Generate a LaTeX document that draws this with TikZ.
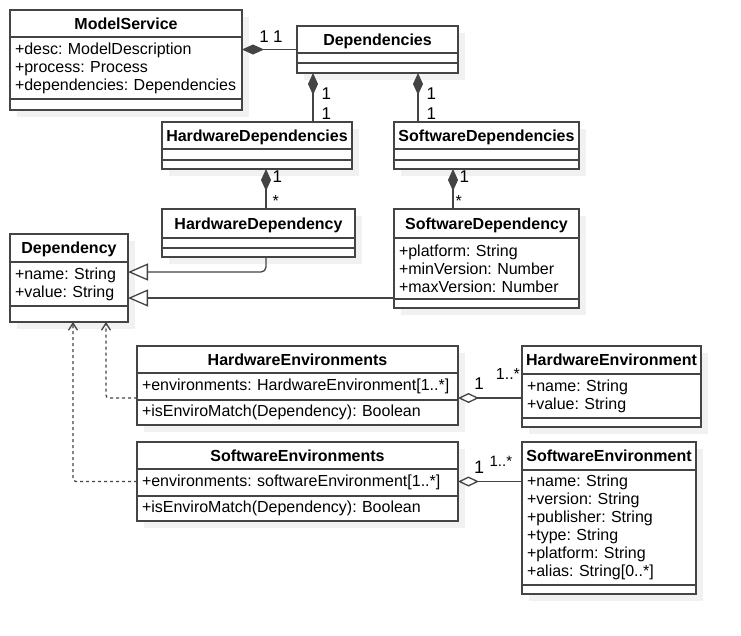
\documentclass[tikz,border=0pt]{standalone}
\usepackage{fontspec}
\setmainfont{Liberation Sans}
\usetikzlibrary{arrows.meta, positioning, shadows}

\definecolor{umlline}{HTML}{444444}
\definecolor{umlshadow}{HTML}{F1F1F1}
\frenchspacing
\hyphenpenalty=10000

\begin{document}
\begin{tikzpicture}[
    x=1pt, y=-1pt,               % Pixelmass, y nach unten
    font=\fontsize{16pt}{18pt}\selectfont,
    umlclass/.style={draw=umlline, line width=1.3pt, fill=white, anchor=north west, inner sep=0pt, outer sep=0pt,
      general shadow={fill=umlshadow, shadow xshift=7pt, shadow yshift=-7pt}},
    umlhead/.style={draw=umlline, line width=1.3pt, fill=white, anchor=north, inner sep=0pt, outer sep=0pt,
      font=\fontsize{16pt}{18pt}\selectfont\bfseries, text height=14.5pt, text depth=3.5pt},
    umlattr/.style={draw=umlline, line width=1.3pt, fill=white, inner xsep=5pt, inner ysep=0pt, outer sep=0pt, align=left},
    comp/.style={draw=umlline, line width=1.3pt, {Diamond[length=22pt,width=10pt]}-},
    aggr/.style={draw=umlline, line width=1.3pt, {Diamond[open,length=21pt,width=10pt]}-},
    gen/.style={draw=umlline, line width=1.3pt, -{Triangle[open,length=20pt,width=17pt]}, rounded corners=5pt},
    dep/.style={draw=umlline, line width=1.3pt, dash pattern=on 3pt off 3pt, -{Straight Barb[length=7pt,width=9pt]}, rounded corners=3pt},
    mult/.style={inner sep=1pt, font=\fontsize{17pt}{17pt}\selectfont},
    star/.style={inner sep=1pt, font=\fontsize{16pt}{16pt}\selectfont}
  ]

  \useasboundingbox (0,0) rectangle (741,635);

  % Klassen (obere linke Ecke in Pixeln)
  \node[umlclass, minimum width=232pt, minimum height=100pt] (ms) at (10,10) {};
  \node[umlhead, minimum width=232pt, minimum height=27pt] (msh) at (ms.north) {ModelService};
  \node[umlattr, text width=222pt, minimum height=62pt, below=0pt of msh] (msa)
    {+desc: ModelDescription\\+process: Process\\+dependencies: Dependencies};

  \node[umlclass, minimum width=161pt, minimum height=47pt] (deps) at (297,26) {};
  \node[umlhead, minimum width=161pt, minimum height=27pt] (depsh) at (deps.north) {Dependencies};
  \node[umlattr, minimum width=161pt, minimum height=10pt, below=0pt of depsh] (depsa) {};

  \node[umlclass, minimum width=190pt, minimum height=47pt] (hwdeps) at (162,122) {};
  \node[umlhead, minimum width=190pt, minimum height=27pt] (hwdepsh) at (hwdeps.north) {HardwareDependencies};
  \node[umlattr, minimum width=190pt, minimum height=11pt, below=0pt of hwdepsh] (hwdepsa) {};

  \node[umlclass, minimum width=185pt, minimum height=47pt] (swdeps) at (394,122) {};
  \node[umlhead, minimum width=185pt, minimum height=27pt] (swdepsh) at (swdeps.north) {SoftwareDependencies};
  \node[umlattr, minimum width=185pt, minimum height=11pt, below=0pt of swdepsh] (swdepsa) {};

  \node[umlclass, minimum width=193pt, minimum height=48pt] (hwdep) at (162,209) {};
  \node[umlhead, minimum width=193pt, minimum height=29pt] (hwdeph) at (hwdep.north) {HardwareDependency};
  \node[umlattr, minimum width=193pt, minimum height=10pt, below=0pt of hwdeph] (hwdepa) {};

  \node[umlclass, minimum width=185pt, minimum height=99pt] (swdep) at (394,209) {};
  \node[umlhead, minimum width=185pt, minimum height=29pt] (swdeph) at (swdep.north) {SoftwareDependency};
  \node[umlattr, text width=175pt, minimum height=61pt, below=0pt of swdeph] (swdepa)
    {+platform: String\\+minVersion: Number\\+maxVersion: Number};

  \node[umlclass, minimum width=118pt, minimum height=88pt] (dep) at (10,234) {};
  \node[umlhead, minimum width=118pt, minimum height=28pt] (deph) at (dep.north) {Dependency};
  \node[umlattr, text width=108pt, minimum height=44pt, below=0pt of deph] (depa)
    {+name: String\\+value: String};

  \node[umlclass, minimum width=321pt, minimum height=79pt] (hwenvs) at (137,346) {};
  \node[umlhead, minimum width=321pt, minimum height=27pt] (hwenvsh) at (hwenvs.north) {HardwareEnvironments};
  \node[umlattr, text width=311pt, minimum height=27pt, below=0pt of hwenvsh] (hwenvsa)
    {+environments: HardwareEnvironment[1..*]};
  \node[umlattr, text width=311pt, minimum height=25pt, below=0pt of hwenvsa] (hwenvsm)
    {+isEnviroMatch(Dependency): Boolean};

  \node[umlclass, minimum width=179pt, minimum height=81pt] (hwenv) at (522,346) {};
  \node[umlhead, minimum width=179pt, minimum height=28pt] (hwenvh) at (hwenv.north) {HardwareEnvironment};
  \node[umlattr, text width=169pt, minimum height=44pt, below=0pt of hwenvh] (hwenva)
    {+name: String\\+value: String};

  \node[umlclass, minimum width=321pt, minimum height=79pt] (swenvs) at (137,442) {};
  \node[umlhead, minimum width=321pt, minimum height=27pt] (swenvsh) at (swenvs.north) {SoftwareEnvironments};
  \node[umlattr, text width=311pt, minimum height=27pt, below=0pt of swenvsh] (swenvsa)
    {+environments: softwareEnvironment[1..*]};
  \node[umlattr, text width=311pt, minimum height=25pt, below=0pt of swenvsa] (swenvsm)
    {+isEnviroMatch(Dependency): Boolean};

  \node[umlclass, minimum width=174pt, minimum height=152pt] (swenv) at (522,442) {};
  \node[umlhead, minimum width=174pt, minimum height=28pt] (swenvh) at (swenv.north) {SoftwareEnvironment};
  \node[umlattr, text width=164pt, minimum height=115pt, below=0pt of swenvh] (swenva)
    {+name: String\\+version: String\\+publisher: String\\+type: String\\+platform: String\\+alias: String[0..*]};

  % Kompositionen
  \draw[comp] (ms.east |- deps.west) -- node[mult, above=5pt, pos=0.4] {1} node[mult, above=5pt, pos=0.65] {1} (deps.west);
  \draw[comp] ([xshift=16pt]deps.south west) -- node[mult, right=7pt, pos=0.42] {1} node[mult, right=7pt, pos=0.82] {1}
    ([xshift=16pt]deps.south west |- hwdeps.north);
  \draw[comp] ([xshift=-40pt]deps.south east) -- node[mult, right=7pt, pos=0.42] {1} node[mult, right=7pt, pos=0.82] {1}
    ([xshift=-40pt]deps.south east |- swdeps.north);
  \draw[comp] ([xshift=104pt]hwdeps.south west) -- node[mult, right=5pt, pos=0.18] {1} node[star, right=5pt, pos=0.81] {*}
    ([xshift=104pt]hwdeps.south west |- hwdep.north);
  \draw[comp] ([xshift=59pt]swdeps.south west) -- node[mult, right=5pt, pos=0.18] {1} node[star, right=1pt, pos=0.81] {*}
    ([xshift=59pt]swdeps.south west |- swdep.north);

  % Vererbung
  \draw[gen] ([xshift=104pt]hwdep.south west) |- ([yshift=6pt]dep.east);
  \draw[gen] ([yshift=-39.5pt]swdep.west) -- ([yshift=-20pt]dep.east);

  % Abhaengigkeiten
  \draw[dep] ([yshift=-12.5pt]hwenvs.west) -| ([xshift=37pt]dep.south);
  \draw[dep] (swenvs.west) -| ([xshift=4pt]dep.south);

  % Aggregationen
  \draw[aggr] ([yshift=-12.5pt]hwenvs.east) -- node[mult, above=7pt, pos=0.33] {1} node[star, above=17pt, pos=0.78] {1..*}
    ([yshift=-12.5pt]hwenvs.east -| hwenv.west);
  \draw[aggr] (swenvs.east) -- node[mult, font=\fontsize{18pt}{18pt}\selectfont, above=6pt, pos=0.33] {1}
    node[star, font=\fontsize{15pt}{15pt}\selectfont, above=13pt, pos=0.67] {1..*} (swenvs.east -| swenv.west);

\end{tikzpicture}
\end{document}
